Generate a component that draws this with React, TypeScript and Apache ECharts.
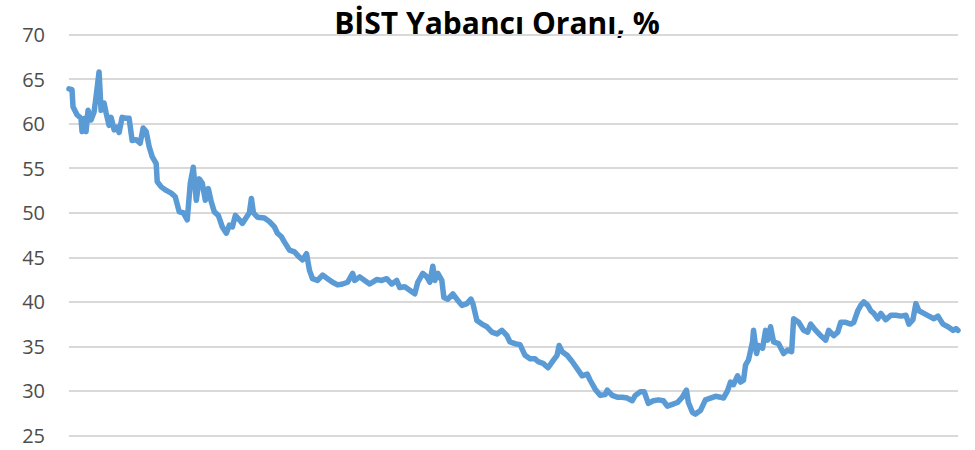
import React, { useEffect, useRef } from "react";
import * as echarts from "echarts";

const titleText = "BİST Yabancı Oranı, %";
const yTicks = [25, 30, 35, 40, 45, 50, 55, 60, 65, 70];

// time position (week index) of each sample
const weeks = [
  0, 3, 4, 8, 12, 13, 16, 17, 19, 22,
  25, 27, 30, 32, 35, 37, 40, 42, 45, 48,
  50, 53, 57, 60, 63, 67, 71, 74, 77, 80,
  83, 87, 88, 92, 97, 102, 106, 110, 114, 118,
  121, 124, 127, 130, 133, 136, 139, 142, 145, 149,
  153, 157, 160, 163, 166, 170, 173, 177, 180, 182,
  184, 188, 195, 200, 205, 208, 212, 215, 220, 225,
  230, 233, 237, 240, 243, 248, 253, 258, 263, 268,
  273, 278, 283, 285, 290, 295, 300, 307, 312, 317,
  322, 327, 330, 335, 340, 345, 348, 353, 357, 360,
  363, 365, 368, 372, 374, 378, 383, 387, 392, 397,
  401, 403, 407, 412, 417, 422, 427, 432, 437, 440,
  445, 450, 455, 460, 465, 468, 473, 478, 483, 487,
  489, 492, 497, 502, 507, 512, 517, 520, 525, 530,
  535, 537, 542, 547, 552, 557, 562, 565, 570, 574,
  578, 583, 588, 593, 597, 602, 607, 612, 616, 618,
  622, 625, 630, 635, 640, 645, 650, 653, 657, 660,
  663, 667, 670, 673, 675, 678, 682, 683, 686, 688,
  692, 695, 697, 700, 703, 708, 713, 717, 721, 723,
  728, 733, 737, 740, 745, 750, 755, 758, 763, 767,
  770, 775, 780, 783, 787, 790, 793, 797, 800, 803,
  807, 810, 815, 820, 825, 830, 835, 838, 842, 845,
  848, 853, 858, 863, 867, 872, 877, 882, 885, 887,
];

// foreign ownership share, %
const share = [
  63.9, 63.8, 61.9, 61.0, 60.6, 59.1, 60.6, 59.1, 61.5, 60.4,
  61.3, 63.0, 65.8, 61.5, 62.3, 61.2, 59.8, 60.7, 59.3, 59.6,
  59.0, 60.7, 60.6, 60.6, 58.1, 58.2, 57.8, 59.5, 59.1, 57.4,
  56.3, 55.5, 53.5, 52.9, 52.5, 52.2, 51.8, 50.1, 50.0, 49.2,
  53.3, 55.1, 51.4, 53.8, 53.3, 51.4, 52.7, 51.2, 50.1, 49.7,
  48.4, 47.7, 48.6, 48.4, 49.7, 49.2, 48.8, 49.5, 50.0, 51.6,
  50.0, 49.5, 49.4, 49.0, 48.4, 47.7, 47.3, 46.7, 45.8, 45.6,
  45.0, 44.7, 45.4, 43.5, 42.6, 42.4, 43.0, 42.6, 42.2, 41.9,
  42.0, 42.2, 43.2, 42.4, 42.8, 42.4, 42.0, 42.5, 42.4, 42.6,
  42.0, 42.4, 41.6, 41.7, 41.3, 40.9, 42.2, 43.2, 42.8, 42.2,
  44.0, 42.4, 43.2, 42.4, 40.5, 40.3, 40.9, 40.3, 39.6, 39.8,
  40.3, 39.8, 37.9, 37.5, 37.2, 36.6, 36.4, 36.8, 36.2, 35.5,
  35.3, 35.2, 34.0, 33.6, 33.6, 33.3, 33.1, 32.6, 33.4, 34.0,
  35.1, 34.4, 34.0, 33.3, 32.5, 31.7, 31.9, 31.2, 30.2, 29.5,
  29.6, 30.1, 29.5, 29.3, 29.3, 29.2, 28.9, 29.5, 29.9, 29.9,
  28.6, 28.9, 29.0, 28.9, 28.3, 28.5, 28.7, 29.3, 30.1, 28.7,
  27.6, 27.4, 27.8, 29.0, 29.2, 29.4, 29.3, 29.2, 30.0, 31.0,
  30.7, 31.7, 31.0, 31.2, 32.9, 33.5, 35.5, 36.8, 34.2, 35.1,
  34.8, 36.8, 35.7, 37.2, 35.5, 35.3, 34.2, 34.6, 34.4, 38.1,
  37.7, 36.8, 36.6, 37.5, 36.8, 36.2, 35.7, 36.8, 36.2, 36.6,
  37.7, 37.7, 37.5, 37.7, 39.0, 39.6, 40.0, 39.6, 39.0, 38.7,
  38.1, 38.7, 38.0, 38.5, 38.5, 38.4, 38.5, 37.5, 38.0, 39.8,
  39.0, 38.7, 38.4, 38.1, 38.4, 37.5, 37.2, 36.8, 37.0, 36.8,
];

export default function App() {
  const ref = useRef<HTMLDivElement>(null);

  useEffect(() => {
    document.body.style.margin = "0";
    if (!ref.current) return;
    const chart = echarts.init(ref.current, undefined, { renderer: "svg" });
    const points = weeks.map((w, i) => [w, share[i]]);
    chart.setOption({
      animation: false,
      backgroundColor: "#ffffff",
      textStyle: { fontFamily: "Open Sans" },
      graphic: [
        {
          type: "text",
          x: 497,
          y: 22,
          style: {
            text: titleText,
            fontFamily: "Open Sans",
            fontWeight: "bold",
            fontSize: 30,
            fill: "#000000",
            textAlign: "center",
            textVerticalAlign: "middle",
          },
        },
      ],
      grid: { left: 69, right: 17, top: 34.5, bottom: 14.5 },
      xAxis: {
        type: "value",
        min: weeks[0],
        max: weeks[weeks.length - 1],
        show: false,
      },
      yAxis: {
        type: "value",
        min: yTicks[0],
        max: yTicks[yTicks.length - 1],
        interval: 5,
        axisLine: { show: false },
        axisTick: { show: false },
        axisLabel: {
          color: "#4d4d4d",
          fontSize: 20,
          fontFamily: "Open Sans",
          margin: 24,
        },
        splitLine: { lineStyle: { color: "#d9d9d9", width: 2 } },
      },
      series: [
        {
          type: "line",
          data: points,
          showSymbol: false,
          symbol: "none",
          lineStyle: { color: "#5B9BD5", width: 5.5, join: "round", cap: "round" },
          z: 3,
        },
      ],
    });
    return () => chart.dispose();
  }, []);

  return <div ref={ref} style={{ width: 975, height: 450 }} />;
}
